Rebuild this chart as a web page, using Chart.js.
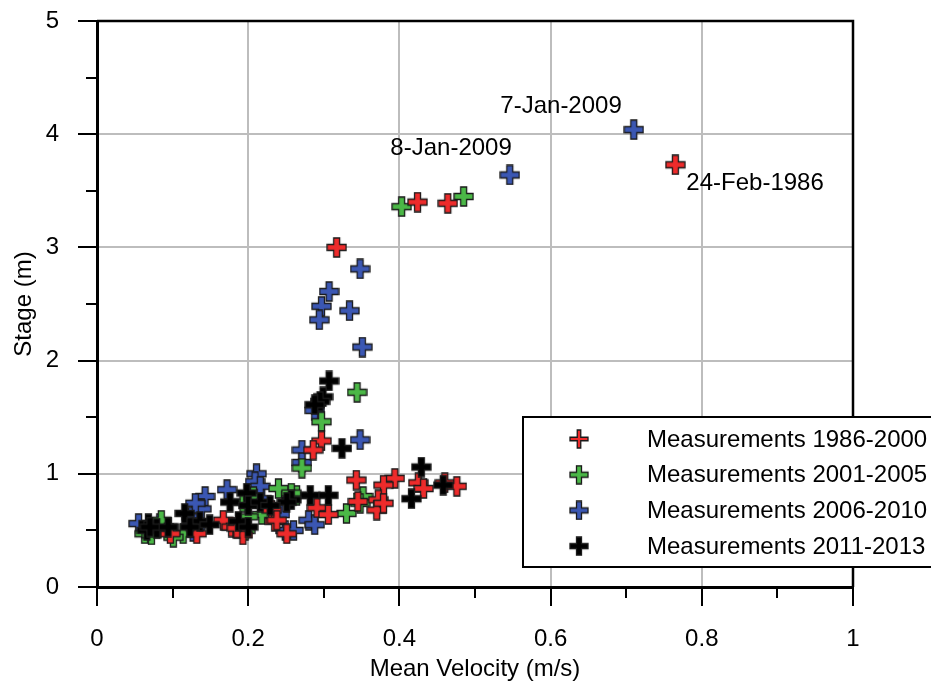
<!DOCTYPE html>
<html>
<head>
<meta charset="utf-8">
<script src="https://cdn.jsdelivr.net/npm/chart.js@4.4.1/dist/chart.umd.min.js"></script>
<style>
  html, body { margin: 0; padding: 0; background: #fff; }
</style>
</head>
<body>
<canvas id="stageChart" width="931" height="681"></canvas>
<script>
// series labels + colours
const seriesLabels = ['Measurements 1986-2000', 'Measurements 2001-2005', 'Measurements 2006-2010', 'Measurements 2011-2013'];
const seriesColors = ['#ee2b2b', '#4bb847', '#3b57b3', '#000000'];

// mean velocity (m/s) / stage (m) per period
const vel1986 = [0.765, 0.464, 0.424, 0.317, 0.297, 0.286, 0.343, 0.394, 0.379, 0.425, 0.432, 0.460, 0.476, 0.345, 0.372, 0.370, 0.379, 0.291, 0.306, 0.231, 0.235, 0.251, 0.167, 0.178, 0.193, 0.132, 0.097, 0.238, 0.185];
const stage1986 = [3.73, 3.39, 3.40, 3.00, 1.29, 1.21, 0.945, 0.96, 0.90, 0.92, 0.87, 0.92, 0.89, 0.755, 0.77, 0.68, 0.74, 0.70, 0.64, 0.68, 0.58, 0.47, 0.59, 0.53, 0.46, 0.47, 0.47, 0.59, 0.52];

const vel2001 = [0.485, 0.403, 0.344, 0.297, 0.271, 0.352, 0.348, 0.330, 0.264, 0.240, 0.257, 0.193, 0.218, 0.200, 0.196, 0.114, 0.101, 0.085, 0.063, 0.072, 0.207];
const stage2001 = [3.45, 3.36, 1.72, 1.46, 1.05, 0.80, 0.74, 0.65, 0.81, 0.87, 0.83, 0.75, 0.64, 0.62, 0.50, 0.47, 0.44, 0.59, 0.47, 0.46, 0.80];

const vel2006 = [0.710, 0.546, 0.348, 0.307, 0.297, 0.294, 0.334, 0.351, 0.288, 0.271, 0.348, 0.271, 0.211, 0.209, 0.172, 0.143, 0.218, 0.138, 0.127, 0.127, 0.242, 0.249, 0.280, 0.288, 0.260, 0.055, 0.083, 0.094, 0.125, 0.130, 0.130, 0.216];
const stage2006 = [4.04, 3.64, 2.81, 2.61, 2.48, 2.36, 2.44, 2.12, 1.56, 1.21, 1.30, 1.10, 1.00, 0.93, 0.86, 0.80, 0.78, 0.69, 0.55, 0.49, 0.64, 0.50, 0.59, 0.55, 0.50, 0.56, 0.56, 0.53, 0.62, 0.74, 0.53, 0.89];

const vel2011 = [0.307, 0.299, 0.295, 0.288, 0.324, 0.429, 0.416, 0.458, 0.282, 0.306, 0.257, 0.251, 0.176, 0.198, 0.200, 0.216, 0.229, 0.187, 0.200, 0.136, 0.149, 0.068, 0.066, 0.079, 0.116, 0.123, 0.094, 0.070];
const stage2011 = [1.82, 1.68, 1.64, 1.61, 1.225, 1.06, 0.78, 0.90, 0.81, 0.81, 0.77, 0.75, 0.75, 0.83, 0.72, 0.75, 0.72, 0.58, 0.53, 0.58, 0.55, 0.56, 0.50, 0.52, 0.65, 0.53, 0.53, 0.53];

// annotated events
const eventNames = ['7-Jan-2009', '8-Jan-2009', '24-Feb-1986'];
const eventVel = [0.710, 0.546, 0.765];
const eventStage = [4.04, 3.64, 3.73];

const xTickLabels = ['0', '0.2', '0.4', '0.6', '0.8', '1'];
const yTickLabels = ['0', '1', '2', '3', '4', '5'];

const FONT = "'Liberation Sans', Arial, sans-serif";

// filled plus marker with dark outline
function plusMarker(color, size, arm) {
    const c = document.createElement('canvas');
    c.width = size + 2;
    c.height = size + 2;
    const g = c.getContext('2d');
    const m = (size + 2) / 2, h = size / 2, t = arm / 2;
    g.beginPath();
    g.moveTo(m - t, m - h); g.lineTo(m + t, m - h); g.lineTo(m + t, m - t);
    g.lineTo(m + h, m - t); g.lineTo(m + h, m + t); g.lineTo(m + t, m + t);
    g.lineTo(m + t, m + h); g.lineTo(m - t, m + h); g.lineTo(m - t, m + t);
    g.lineTo(m - h, m + t); g.lineTo(m - h, m - t); g.lineTo(m - t, m - t);
    g.closePath();
    g.fillStyle = color;
    g.fill();
    g.lineWidth = 1.3;
    g.strokeStyle = '#1a1a1a';
    g.stroke();
    return c;
}

const markers = seriesColors.map(col => plusMarker(col, 19, 6));
const legendMarkers = seriesColors.map((col, i) => plusMarker(col, 18, i === 0 ? 3.5 : 5));

const toPoints = (xs, ys) => xs.map((x, i) => ({ x: x, y: ys[i] }));
const seriesData = [
    toPoints(vel1986, stage1986),
    toPoints(vel2001, stage2001),
    toPoints(vel2006, stage2006),
    toPoints(vel2011, stage2011)
];
const drawOrder = [1, 2, 3, 0];

// minor ticks, frame, legend box and event labels
const extrasPlugin = {
    id: 'extras',
    afterDraw(chart) {
        const ctx = chart.ctx;
        const area = chart.chartArea;
        const xs = chart.scales.x, ys = chart.scales.y;
        ctx.save();
        ctx.strokeStyle = '#000';
        ctx.lineWidth = 2;
        // minor ticks
        for (let v = 0.1; v < 1; v += 0.2) {
            const px = Math.round(xs.getPixelForValue(v));
            ctx.beginPath(); ctx.moveTo(px, area.bottom); ctx.lineTo(px, area.bottom + 11); ctx.stroke();
        }
        for (let v = 0.5; v < 5; v += 1) {
            const py = Math.round(ys.getPixelForValue(v));
            ctx.beginPath(); ctx.moveTo(area.left, py); ctx.lineTo(area.left - 11, py); ctx.stroke();
        }
        // top/right frame
        ctx.lineWidth = 2.5;
        ctx.beginPath();
        ctx.moveTo(area.left, area.top); ctx.lineTo(area.right, area.top); ctx.lineTo(area.right, area.bottom);
        ctx.stroke();

        // event labels
        ctx.fillStyle = '#000';
        ctx.font = '24px ' + FONT;
        ctx.textBaseline = 'middle';
        const offs = [[-12, -23, 'right'], [2, -27, 'right'], [11, 19, 'left']];
        eventNames.forEach((name, i) => {
            const px = xs.getPixelForValue(eventVel[i]);
            const py = ys.getPixelForValue(eventStage[i]);
            ctx.textAlign = offs[i][2];
            ctx.fillText(name, px + offs[i][0], py + offs[i][1]);
        });

        // legend box
        const bx = area.right - 330, by = area.bottom - 170;
        ctx.fillStyle = '#fff';
        ctx.fillRect(bx, by, 420, 150);
        ctx.lineWidth = 2;
        ctx.strokeRect(bx, by, 420, 150);
        ctx.textAlign = 'left';
        ctx.fillStyle = '#000';
        ctx.font = '24px ' + FONT;
        seriesLabels.forEach((lab, i) => {
            const rowY = by + 22 + i * 35.7;
            const mk = legendMarkers[i];
            ctx.drawImage(mk, bx + 56 - mk.width / 2, rowY - mk.height / 2);
            ctx.fillText(lab, bx + 124, rowY + 1);
        });
        ctx.restore();
    }
};

const ctx = document.getElementById('stageChart').getContext('2d');
const stageChart = new Chart(ctx, {
    type: 'scatter',
    data: {
        datasets: seriesData.map((pts, i) => ({
            label: seriesLabels[i],
            data: pts,
            pointStyle: markers[i],
            backgroundColor: seriesColors[i],
            borderColor: '#000',
            order: drawOrder[i]
        }))
    },
    options: {
        responsive: false,
        animation: false,
        devicePixelRatio: 1,
        layout: { padding: { top: 21, right: 78, left: 0, bottom: 0 } },
        plugins: {
            legend: { display: false },
            tooltip: { enabled: false }
        },
        scales: {
            x: {
                type: 'linear',
                min: 0,
                max: 1,
                afterFit: s => { s.height = 94; },
                border: { color: '#000', width: 3 },
                grid: {
                    color: c => (c.index % 2 === 0 ? '#bdbdbd' : 'rgba(0,0,0,0)'),
                    lineWidth: 2,
                    tickColor: c => (c.index % 2 === 0 ? '#000' : 'rgba(0,0,0,0)'),
                    tickLength: 19,
                    tickWidth: 2
                },
                ticks: {
                    stepSize: 0.1,
                    autoSkip: false,
                    maxRotation: 0,
                    padding: 19,
                    color: '#000',
                    font: { family: FONT, size: 24 },
                    callback: (v, i) => (i % 2 === 0 ? xTickLabels[i / 2] : '')
                },
                title: {
                    display: true,
                    text: 'Mean Velocity (m/s)',
                    color: '#000',
                    font: { family: FONT, size: 24 },
                    padding: { top: 0, bottom: -3 }
                }
            },
            y: {
                type: 'linear',
                min: 0,
                max: 5,
                afterFit: s => { s.width = 97; s.paddingTop = 0; },
                border: { color: '#000', width: 3 },
                grid: {
                    color: c => (c.index % 2 === 0 ? '#bdbdbd' : 'rgba(0,0,0,0)'),
                    lineWidth: 2,
                    tickColor: c => (c.index % 2 === 0 ? '#000' : 'rgba(0,0,0,0)'),
                    tickLength: 19,
                    tickWidth: 2
                },
                ticks: {
                    stepSize: 0.5,
                    autoSkip: false,
                    padding: 19,
                    color: '#000',
                    font: { family: FONT, size: 24 },
                    callback: (v, i) => (i % 2 === 0 ? yTickLabels[i / 2] : '')
                },
                title: {
                    display: true,
                    text: 'Stage (m)',
                    color: '#000',
                    font: { family: FONT, size: 24 },
                    padding: { top: 10, bottom: 0 }
                }
            }
        }
    },
    plugins: [extrasPlugin]
});
</script>
</body>
</html>
